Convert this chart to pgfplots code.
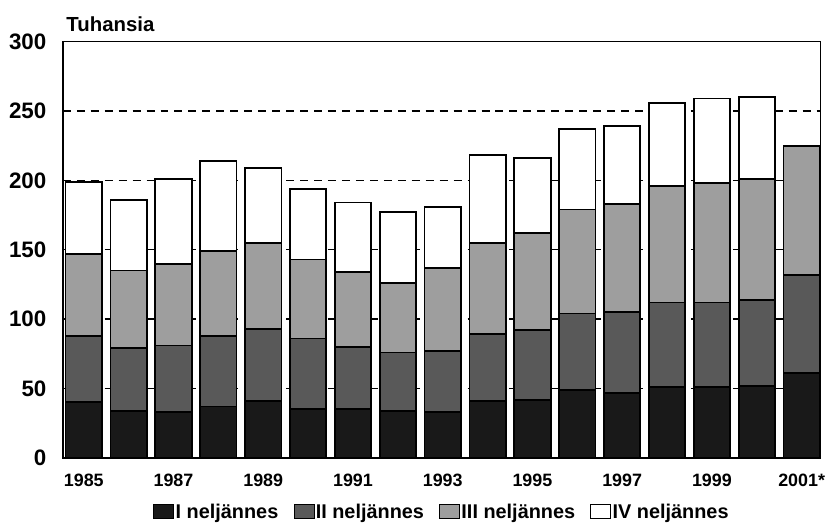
\documentclass[border=0pt]{standalone}
\usepackage{pgfplots}
\usepackage{pgfplotstable}
\pgfplotsset{compat=1.18}
\usepackage{fontspec}
\setmainfont{Liberation Sans}
\pgfplotstableread{
x q1 q2 q3
0 40 48 59
1 34 45 56
2 33 48 59
3 37 51 61
4 41 52 62
5 35 51 57
6 35 45 54
7 34 42 50
8 33 44 60
9 41 48 66
10 42 50 70
11 49 55 75
12 47 58 78
13 51 61 84
14 51 61 86
15 52 62 87
16 61 71 93
}\datatable
\begin{document}
\begin{tikzpicture}
\begin{axis}[
  name=ax,
  scale only axis, width=760bp, height=417.6bp,
  ybar stacked, bar width=0.81,
  xmin=-0.467, xmax=16.42, ymin=0, ymax=300,
  ytick={0,50,...,300},
  xtick={0,2,...,16},
  xticklabels={1985,1987,1989,1991,1993,1995,1997,1999,2001*},
  major tick length=0,
  ymajorgrids,
  grid style={black, line width=1.4bp, dash pattern=on 8bp off 6bp},
  axis line style={line width=1.8bp},
  /pgf/number format/assume math mode=true,
  yticklabel style={font=\fontsize{22.5}{25}\selectfont\bfseries, inner sep=0pt, xshift=-16.3bp},
  xticklabel style={font=\fontsize{18}{20}\selectfont\bfseries, inner sep=0pt, yshift=-15.5bp},
  every axis plot/.append style={draw=black, line width=1.8bp},
  legend columns=4,
  legend style={draw=none, fill=none, at={(0.5,-0.129)}, anchor=center,
    font=\fontsize{20}{22}\selectfont\bfseries,
    /tikz/every even column/.append style={column sep=14bp},
    nodes={inner sep=1.3bp}},
  legend image code/.code={\draw[#1,line width=1bp] (0bp,-7bp) rectangle (20bp,7bp);},
  clip=false,
]
\addplot[fill=black!90] table[x=x,y=q1] {\datatable};
\addplot[fill=black!65] table[x=x,y=q2] {\datatable};
\addplot[fill=black!38] table[x=x,y=q3] {\datatable};
\addplot[fill=white] coordinates {(0,52) (1,51) (2,61) (3,65) (4,54) (5,51) (6,50) (7,51) (8,44) (9,63) (10,54) (11,58) (12,56) (13,60) (14,61) (15,59)};
\legend{I neljännes, II neljännes, III neljännes, IV neljännes}
\node[anchor=base west, inner sep=0pt, font=\fontsize{20.5}{23}\selectfont\bfseries] at ([xshift=3.5bp,yshift=10.5bp]rel axis cs:0,1) {Tuhansia};
\end{axis}
\path ([xshift=-63bp,yshift=-66bp]ax.south west) rectangle ([xshift=2bp,yshift=41.7bp]ax.north east);
\end{tikzpicture}
\end{document}
